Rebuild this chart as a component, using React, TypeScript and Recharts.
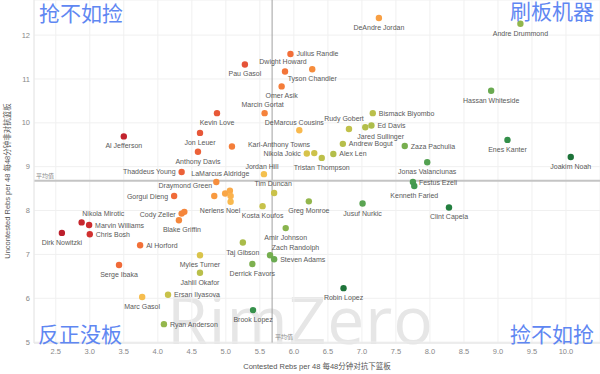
import { ScatterChart, Scatter, XAxis, YAxis, CartesianGrid, ReferenceLine } from 'recharts'

// player names ('' = point whose label is hidden in the original)
const players = [
  'Andre Drummond', 'DeAndre Jordan', 'Julius Randle', 'Dwight Howard', 'Pau Gasol', 'Tyson Chandler',
  'Omer Asik', 'Marcin Gortat', 'Kevin Love', 'DeMarcus Cousins', 'Rudy Gobert', 'Bismack Biyombo',
  'Jared Sullinger', 'Ed Davis', 'Andrew Bogut', 'Zaza Pachulia', 'Hassan Whiteside', 'Enes Kanter',
  'Joakim Noah', 'Al Jefferson', 'Jon Leuer', 'Anthony Davis', 'Karl-Anthony Towns', 'Nikola Jokic',
  '', 'Alex Len', 'Tristan Thompson', 'Jonas Valanciunas', 'Thaddeus Young', 'LaMarcus Aldridge',
  'Jordan Hill', 'Draymond Green', '', '', '', 'Nerlens Noel',
  'Tim Duncan', 'Festus Ezeli', 'Kenneth Faried', 'Gorgui Dieng', 'Kosta Koufos', 'Greg Monroe',
  'Jusuf Nurkic', 'Clint Capela', 'Nikola Mirotic', 'Marvin Williams', 'Chris Bosh', 'Cody Zeller',
  '', 'Blake Griffin', 'Dirk Nowitzki', 'Al Horford', 'Amir Johnson', 'Taj Gibson',
  'Zach Randolph', 'Steven Adams', 'Myles Turner', 'Derrick Favors', 'Jahlil Okafor', 'Serge Ibaka',
  'Ersan Ilyasova', 'Marc Gasol', 'Robin Lopez', 'Brook Lopez', 'Ryan Anderson',
]

// Contested Rebs per 48
const contested = [
  9.33, 7.25, 5.95, 5.87, 5.28, 6.27,
  5.82, 5.57, 4.87, 6.08, 6.81, 7.16,
  7.05, 7.14, 6.72, 7.63, 8.9, 9.14,
  10.07, 3.5, 4.62, 4.59, 5.09, 6.19,
  6.3, 6.58, 6.41, 7.96, 4.35, 4.86,
  5.56, 4.83, 4.99, 5.06, 5.07, 5.07,
  5.71, 7.75, 7.77, 4.24, 5.54, 6.22,
  7.01, 8.28, 2.88, 2.99, 3.0, 4.35,
  4.39, 4.31, 2.59, 3.74, 5.88, 5.25,
  5.65, 5.71, 4.62, 5.39, 4.62, 3.43,
  4.15, 3.77, 6.73, 5.4, 4.09,
]

// Uncontested Rebs per 48
const uncontested = [
  12.26, 12.39, 11.57, 11.17, 11.33, 11.22,
  10.83, 10.22, 10.22, 9.83, 9.86, 10.22,
  9.9, 9.94, 9.52, 9.47, 10.73, 9.61,
  9.22, 9.69, 9.77, 9.34, 9.46, 9.3,
  9.31, 9.29, 9.2, 9.1, 8.88, 8.65,
  8.83, 8.33, 8.39, 8.45, 8.33, 8.2,
  8.4, 8.65, 8.56, 8.33, 8.1, 8.21,
  8.16, 8.07, 7.73, 7.67, 7.46, 7.93,
  7.97, 7.78, 7.49, 7.21, 7.6, 7.27,
  6.98, 6.89, 6.98, 6.78, 6.58, 6.76,
  6.08, 6.03, 6.23, 5.73, 5.41,
]

const avgContested = 5.68
const avgUncontested = 8.68

const xTicks = [2.5, 3, 3.5, 4, 4.5, 5, 5.5, 6, 6.5, 7, 7.5, 8, 8.5, 9, 9.5, 10]
const yTicks = [5, 6, 7, 8, 9, 10, 11, 12]

const table = players.map((name, i) => ({ name, x: contested[i], y: uncontested[i] }))

// colour by share of contested rebounds
const colorStops: [number, string][] = [
  [0.25, '#b71c2c'], [0.28, '#cc2a2e'], [0.31, '#e04a38'], [0.34, '#f26e38'],
  [0.365, '#f7963e'], [0.38, '#fbb54f'], [0.39, '#f0c64c'], [0.405, '#c9c24a'],
  [0.42, '#a9bc4a'], [0.44, '#82b24e'], [0.46, '#5ea652'], [0.48, '#3c964e'],
  [0.5, '#268442'], [0.53, '#196b35'],
]

function hex(c: string) {
  return [1, 3, 5].map(i => parseInt(c.slice(i, i + 2), 16))
}

function dotColor(x: number, y: number) {
  const r = x / (x + y)
  if (r <= colorStops[0][0]) return colorStops[0][1]
  for (let i = 1; i < colorStops.length; i++) {
    const [r1, c1] = colorStops[i]
    if (r <= r1) {
      const [r0, c0] = colorStops[i - 1]
      const t = (r - r0) / (r1 - r0)
      const a = hex(c0), b = hex(c1)
      return `rgb(${a.map((v, k) => Math.round(v + (b[k] - v) * t)).join(',')})`
    }
  }
  return colorStops[colorStops.length - 1][1]
}

// label placement: [dx, dy, anchor]; default is centred below the dot
const R: [number, number, string] = [6, 0, 'start']
const L: [number, number, string] = [-6, 0, 'end']
const labelPos: Record<string, [number, number, string]> = {
  'Julius Randle': R, 'Bismack Biyombo': R, 'Ed Davis': R, 'Andrew Bogut': R, 'Alex Len': R,
  'Zaza Pachulia': R, 'Festus Ezeli': R, 'Marvin Williams': R, 'Chris Bosh': R, 'Al Horford': R,
  'Ersan Ilyasova': R, 'Ryan Anderson': R, 'Steven Adams': R,
  'Nikola Jokic': L, 'Thaddeus Young': L, 'Gorgui Dieng': L, 'Cody Zeller': [-6, 0.7, 'end'],
  'Dwight Howard': [-2, -9.5, 'middle'], 'Marcin Gortat': [-2, -9, 'middle'],
  'DeMarcus Cousins': [-5, -8, 'middle'], 'Rudy Gobert': [-5, -10, 'middle'],
  'Jordan Hill': [-2, -8, 'middle'], 'LaMarcus Aldridge': [4, -8.5, 'middle'],
  'Tim Duncan': [-1, -9, 'middle'], 'Jared Sullinger': [-8, 9.5, 'start'],
  'Karl-Anthony Towns': [16, -1.5, 'start'], 'Draymond Green': [-2, -10.5, 'end'],
  'Nerlens Noel': [-10.5, 9, 'middle'], 'Nikola Mirotic': [0.7, -8.5, 'start'],
  'Zach Randolph': [1.7, -8, 'start'], 'Blake Griffin': [3, 9, 'middle'],
}

const font = '"Liberation Sans", "Noto Sans CJK SC", sans-serif'
const cjk = '"Noto Sans CJK SC", sans-serif'

function Dot(props: any) {
  const { cx, cy, payload } = props
  return <circle cx={cx} cy={cy} r={3.2} fill={dotColor(payload.x, payload.y)} />
}

function Name(props: any) {
  const { cx, cy, payload } = props
  if (!payload.name) return <g />
  const [dx, dy, anchor] = labelPos[payload.name] ?? [0, 9.5, 'middle']
  return (
    <text x={cx + dx} y={cy + dy} textAnchor={anchor as any} dominantBaseline="central"
      fontSize={7} fill="#595959" fontFamily={font}>
      {payload.name}
    </text>
  )
}

const corner = { position: 'absolute' as const, fontSize: 21, lineHeight: '21px', color: '#5f87f2', fontFamily: cjk }

export default function App() {
  return (
    <div style={{ position: 'fixed', left: 0, top: 0, width: 600, height: 374, background: '#fff', overflow: 'hidden' }}>
      <div style={{ position: 'absolute', left: 167, top: 273, fontSize: 66, letterSpacing: 1, color: '#e6e6e6', fontFamily: '"Open Sans", sans-serif', fontWeight: 400, whiteSpace: 'nowrap' }}>
        RimZero
      </div>
      <ScatterChart width={600} height={374} margin={{ top: 0, right: 0, bottom: 0, left: 0 }}>
        <CartesianGrid stroke="#f0f0f0" />
        <XAxis type="number" dataKey="x" domain={[2.18, 10.5]} ticks={xTicks} allowDataOverflow height={31}
          tickFormatter={(v: number) => v.toFixed(1)} tickLine={false} tickSize={4} tickMargin={2}
          axisLine={{ stroke: '#e4e4e4' }} tick={{ fontSize: 7.5, fill: '#888', fontFamily: font }}
          label={(p: any) => (
            <text x={p.viewBox.x + p.viewBox.width / 2} y={366} textAnchor="middle" dominantBaseline="central"
              fontSize={7.5} fill="#555" fontFamily={font}>Contested Rebs per 48 每48分钟对抗下篮板</text>
          )} />
        <YAxis type="number" dataKey="y" domain={[4.98, 12.8]} ticks={yTicks} allowDataOverflow width={34}
          tickLine={false} tickSize={2} tickMargin={2}
          axisLine={{ stroke: '#e8e8e8' }} tick={{ fontSize: 7.5, fill: '#888', fontFamily: font }}
          label={() => (
            <text x={7} y={181} transform="rotate(-90 7 181)" textAnchor="middle" dominantBaseline="central"
              fontSize={7.5} fill="#555" fontFamily={font}>Uncontested Rebs per 48 每48分钟非对抗篮板</text>
          )} />
        <ReferenceLine x={avgContested} stroke="#a0a0a0" strokeWidth={1}
          label={(p: any) => (
            <text x={p.viewBox.x + 3} y={p.viewBox.y + p.viewBox.height - 4} fontSize={6} fill="#888" fontFamily={cjk}>平均值</text>
          )} />
        <ReferenceLine y={avgUncontested} stroke="#c4c4c4" strokeWidth={2}
          label={(p: any) => (
            <text x={p.viewBox.x + 2} y={p.viewBox.y - 3} fontSize={6} fill="#888" fontFamily={cjk}>平均值</text>
          )} />
        <Scatter data={table} shape={Dot} isAnimationActive={false} />
        <Scatter data={table} shape={Name} isAnimationActive={false} />
      </ScatterChart>
      <div style={{ ...corner, left: 39, top: 2 }}>抢不如捡</div>
      <div style={{ ...corner, left: 510, top: 0 }}>刷板机器</div>
      <div style={{ ...corner, left: 38, top: 323 }}>反正没板</div>
      <div style={{ ...corner, left: 510, top: 323 }}>捡不如抢</div>
    </div>
  )
}
